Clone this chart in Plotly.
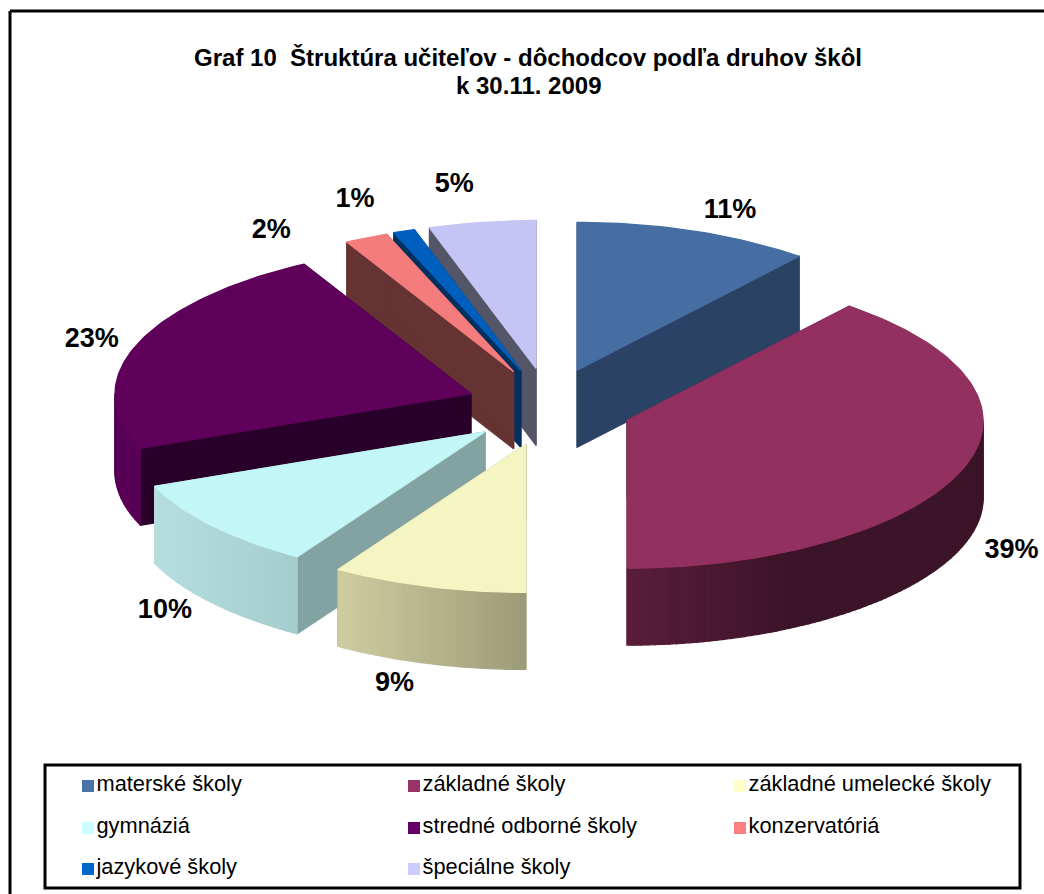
import math
import plotly.graph_objects as go

# data
skoly = ['materské školy', 'základné školy', 'základné umelecké školy', 'gymnáziá',
         'stredné odborné školy', 'konzervatóriá', 'jazykové školy', 'špeciálne školy']
podiel = [11, 39, 9, 10, 23, 2, 1, 5]

# colours per slice
legend_colors = ['#4A74A8', '#993366', '#FFFFCC', '#CCFFFF', '#660066', '#FF8080', '#0066CC', '#CCCCFF']
top_colors = ['#466EA3', '#923060', '#F5F5C3', '#C3F6F6', '#5F005A', '#F57C7C', '#005FBE', '#C5C5F5']
side_colors = ['#2A4364', '#5A1E3C', '#9C9C78', '#83A3A3', '#28002A', '#663333', '#003060', '#555568']
wall_from = [(42, 67, 100), (90, 29, 57), (205, 205, 160), (182, 222, 222), (88, 0, 85), (100, 50, 50), (0, 48, 95), (85, 85, 104)]
wall_to = [(42, 67, 100), (60, 20, 40), (155, 155, 120), (165, 205, 205), (88, 0, 85), (100, 50, 50), (0, 48, 95), (85, 85, 104)]
wall_span = [1, 0.45, 1, 1, 1, 1, 1, 1]

# shape of the exploded pie on the page, in pixels
cx, cy = 549, 407
pull_x, pull_y = 83, 39
ry = 148
wall = 77
label_nudge = [(36, -20), (50, 81), (-34, 98), (-48, 85), (-46, -3), (-95, -7), (-49, -31), (-28, -37)]


def rx(t):
    return 351 - 2 * math.cos(t) - 5 * math.cos(2 * t)


def rim(ax, ay, t):
    return ax + rx(t) * math.sin(t), ay - ry * math.cos(t)


def poly(pts, color):
    return go.Scatter(x=[p[0] for p in pts] + [pts[0][0]], y=[p[1] for p in pts] + [pts[0][1]],
                      mode='lines', fill='toself', fillcolor=color, line=dict(color=color, width=1.2),
                      hoverinfo='skip', showlegend=False)


def mix(a, b, f):
    return 'rgb(%d,%d,%d)' % tuple(round(a[i] + (b[i] - a[i]) * f) for i in range(3))


fig = go.Figure()

slices = []
acc = 0
for i, v in enumerate(podiel):
    a0 = acc / sum(podiel) * 2 * math.pi
    acc += v
    a1 = acc / sum(podiel) * 2 * math.pi
    slices.append((i, a0, a1, (a0 + a1) / 2))

# paint back to front
lab = {}
for i, a0, a1, mid in sorted(slices, key=lambda s: -math.cos(s[3])):
    ax = cx + pull_x * math.sin(mid)
    ay = cy - pull_y * math.cos(mid)
    # radial walls
    for t in (a0, a1):
        e = rim(ax, ay, t)
        fig.add_trace(poly([(ax, ay), e, (e[0], e[1] + wall), (ax, ay + wall)], side_colors[i]))
    # outer wall, strips for the gradient
    b0, b1 = max(a0, math.pi / 2), min(a1, 3 * math.pi / 2)
    if b1 > b0:
        n = max(4, int((b1 - b0) / 0.02))
        xs = [rim(ax, ay, b0 + (b1 - b0) * k / n)[0] for k in range(n + 1)]
        lo, hi = min(xs), max(xs)
        for k in range(n):
            t0 = b0 + (b1 - b0) * k / n
            t1 = b0 + (b1 - b0) * (k + 1) / n
            p0, p1 = rim(ax, ay, t0), rim(ax, ay, t1)
            f = ((p0[0] + p1[0]) / 2 - lo) / (hi - lo)
            fig.add_trace(poly([p0, p1, (p1[0], p1[1] + wall), (p0[0], p0[1] + wall)],
                               mix(wall_from[i], wall_to[i], min(1, f / wall_span[i]))))
    # top face
    n = max(4, int((a1 - a0) / 0.02))
    pts = [(ax, ay)] + [rim(ax, ay, a0 + (a1 - a0) * k / n) for k in range(n + 1)]
    fig.add_trace(poly(pts, top_colors[i]))
    m = rim(ax, ay, mid)
    lab[i] = (m[0] + label_nudge[i][0], m[1] + label_nudge[i][1])

# data labels
fig.add_trace(go.Scatter(x=[lab[i][0] for i in range(len(podiel))], y=[lab[i][1] for i in range(len(podiel))],
                         mode='text', text=[f'{v}%' for v in podiel], textposition='middle center',
                         textfont=dict(family='Liberation Sans', size=27, color='black', weight='bold'),
                         hoverinfo='skip', showlegend=False))

# legend box, three columns
col_x = [88, 414, 740]
row_y = [786, 828, 869]
for i, name in enumerate(skoly):
    fig.add_trace(go.Scatter(x=[col_x[i % 3]], y=[row_y[i // 3]], mode='markers+text', text=[name],
                             textposition='middle right',
                             marker=dict(symbol='square', size=12, color=legend_colors[i]),
                             textfont=dict(family='Liberation Sans', size=21.8, color='black'),
                             hoverinfo='skip', showlegend=False))

line = dict(color='black', width=3)
fig.update_layout(
    width=1044, height=894, margin=dict(l=0, r=0, t=0, b=0),
    paper_bgcolor='white', plot_bgcolor='white', showlegend=False,
    title=dict(text='Graf 10\u00a0\u00a0Štruktúra učiteľov - dôchodcov podľa druhov škôl',
               x=528 / 1044, y=1 - 49 / 894, xanchor='center', yanchor='top',
               font=dict(family='Liberation Sans', size=24, color='black', weight='bold')),
    annotations=[dict(text='k 30.11. 2009', x=528, y=85, xref='x', yref='y', showarrow=False,
                      font=dict(family='Liberation Sans', size=24, color='black', weight='bold'))],
    xaxis=dict(range=[0, 1044], visible=False, fixedrange=True),
    yaxis=dict(range=[894, 0], visible=False, fixedrange=True),
    shapes=[
        dict(type='line', x0=10, x1=1044, y0=11, y1=11, line=line),
        dict(type='line', x0=10, x1=10, y0=11, y1=894, line=line),
        dict(type='rect', x0=45, x1=1020, y0=765, y1=888, line=line, layer='below'),
    ],
)

fig.write_html('out.html', config=dict(displayModeBar=False),
               post_script="document.body.style.margin='0';document.body.style.overflow='hidden';")
